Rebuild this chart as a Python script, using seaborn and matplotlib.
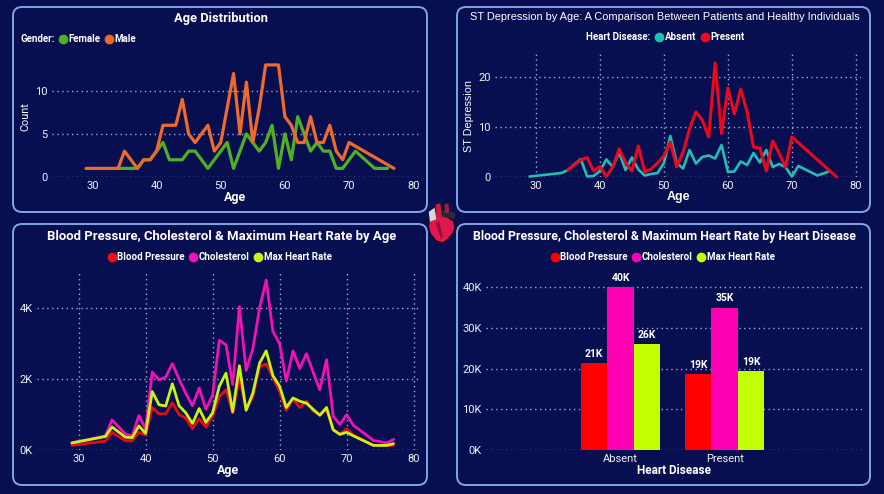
import numpy as np
import pandas as pd
import matplotlib
matplotlib.use("Agg")
import matplotlib.pyplot as plt
from matplotlib.lines import Line2D
from matplotlib.patches import FancyBboxPatch, PathPatch, Polygon
from matplotlib.path import Path
import seaborn as sns

# values
ages_female = [34, 37, 38, 39, 40, 41, 42, 43, 44, 45, 46, 47, 48, 49, 50, 51, 52, 53, 54, 55, 56, 57, 58,
               59, 60, 61, 62, 63, 64, 65, 66, 67, 68, 69, 71, 74, 76]
count_female = [1, 1, 2, 2, 3, 4, 2, 2, 2, 3, 3, 2, 1, 2, 3, 4, 1, 3, 5, 4, 3, 4, 6,
                1, 5, 2, 7, 5, 3, 4, 3, 3, 1, 1, 3, 1, 1]
ages_male = [29, 34, 35, 37, 38, 39, 40, 41, 42, 43, 44, 45, 46, 47, 48, 49, 50, 51, 52, 53, 54, 55, 56, 57,
             58, 59, 60, 61, 62, 63, 64, 65, 66, 67, 68, 69, 70, 77]
count_male = [1, 1, 3, 1, 2, 2, 3, 6, 6, 6, 9, 5, 4, 5, 6, 3, 4, 8, 12, 5, 11, 4, 8, 13,
              13, 13, 7, 6, 4, 4, 7, 4, 4, 6, 3, 2, 4, 1]

ages_absent = [29, 34, 35, 37, 38, 39, 40, 41, 42, 43, 44, 45, 46, 47, 48, 49, 50, 51, 52, 53, 54, 55, 56, 57,
               58, 59, 60, 61, 62, 63, 64, 65, 66, 67, 68, 69, 70, 71, 74, 76]
st_absent = [0.1, 0.8, 1.4, 3.6, 0.1, 0.2, 1.2, 3.5, 2.0, 4.9, 1.4, 3.9, 1.5, 0.3, 0.6, 0.8, 2.8, 8.2, 2.8, 1.7,
             5.4, 2.7, 4.0, 4.3, 3.7, 6.4, 1.0, 1.1, 3.1, 2.4, 4.8, 2.9, 5.4, 2.0, 2.6, 2.0, 0.1, 2.2, 0.3, 1.2]
ages_present = [35, 37, 38, 39, 40, 41, 42, 43, 44, 45, 46, 47, 48, 49, 50, 51, 52, 53, 54, 55, 56, 57, 58,
                59, 60, 61, 62, 63, 64, 65, 66, 67, 68, 69, 70, 77]
st_present = [1.4, 3.4, 3.9, 1.2, 2.1, 0.1, 2.0, 5.6, 2.9, 1.2, 6.2, 1.0, 1.6, 2.8, 4.2, 7.0, 2.0, 5.0, 9.6, 13.0,
              11.4, 8.0, 22.8, 8.7, 17.8, 12.6, 17.6, 13.0, 6.0, 5.8, 1.2, 7.2, 4.8, 2.0, 8.0, 0.0]

ages_all = [29, 34, 35, 37, 38, 39, 40, 41, 42, 43, 44, 45, 46, 47, 48, 49, 50, 51, 52, 53, 54, 55, 56, 57,
            58, 59, 60, 61, 62, 63, 64, 65, 66, 67, 68, 69, 70, 71, 74, 76, 77]
blood_pressure = [130, 250, 500, 260, 260, 500, 420, 1200, 1020, 1020, 1330, 1000, 900, 600, 880, 650, 950, 1500,
                  1700, 1050, 2050, 1150, 1500, 2350, 2430, 2050, 1650, 1120, 1450, 1200, 1380, 1100, 1000, 1150,
                  570, 450, 600, 420, 130, 130, 130]
cholesterol = [200, 400, 850, 450, 400, 970, 600, 2200, 1980, 2060, 2440, 2000, 1600, 1250, 1750, 1150, 1550, 3100,
               2970, 1850, 4050, 2250, 2850, 4000, 4800, 3350, 3000, 1950, 2800, 2300, 2720, 2200, 1700, 2550,
               950, 720, 1000, 700, 270, 200, 300]
max_heart_rate = [200, 380, 650, 360, 350, 680, 470, 1650, 1280, 1240, 1870, 1250, 1050, 750, 1170, 780, 1050, 1800,
                  2170, 1080, 2380, 1120, 1600, 2450, 2800, 2100, 1800, 1200, 1470, 1380, 1320, 1150, 980, 1200,
                  570, 440, 500, 400, 130, 130, 180]

disease_groups = ["Absent", "Present"]
measures = ["Blood Pressure", "Cholesterol", "Max Heart Rate"]
bp_totals = [21300, 18700]
chol_totals = [40000, 35000]
mhr_totals = [26000, 19400]

BG = "#070f50"
BORDER = "#7fa6e6"
GRID = "#a4aacb"
W, H = 884, 494

sns.set_theme(style="dark")
plt.rcParams["font.family"] = ["Roboto", "DejaVu Sans"]

fig = plt.figure(figsize=(W / 100, H / 100), dpi=100, facecolor=BG)


def add_axes(x0, y0, x1, y1):
    # pixel box, y measured from the top like the screenshot
    ax = fig.add_axes([x0 / W, 1 - y1 / H, (x1 - x0) / W, (y1 - y0) / H], facecolor="none")
    return ax


def add_panel(x0, y0, x1, y1):
    box = FancyBboxPatch((x0, H - y1), x1 - x0, y1 - y0, boxstyle="round,pad=0,rounding_size=9",
                         transform=None, fc="none", ec=BORDER, lw=1.4, zorder=0)
    # transform=None means pixels, dpi is 100 so this stays at 884x494
    fig.add_artist(box)


def style_axes(ax, vertical=True):
    ax.grid(False)
    ax.grid(axis="y", color=GRID, lw=1, ls=(0, (1, 2.5)))
    if vertical:
        ax.grid(axis="x", color=GRID, lw=1, ls=(0, (1, 2.5)))
    ax.set_axisbelow(True)
    for s in ax.spines.values():
        s.set_visible(False)
    ax.tick_params(colors="#f0f2fa", labelsize=8, length=0, pad=3)


def age_axis(ax, xlim, ylim, yticks, ylabels=None, ylabel=""):
    ax.set_xlim(*xlim)
    ax.set_ylim(*ylim)
    ax.set_xticks(range(30, 81, 10))
    ax.set_yticks(yticks)
    if ylabels:
        ax.set_yticklabels(ylabels)
    ax.set_xlabel("Age", color="white", fontsize=9, fontweight="bold", labelpad=0)
    ax.set_ylabel(ylabel, color="white", fontsize=7.8)


def long_frame(series):
    rows = []
    for name, xs, ys in series:
        rows.append(pd.DataFrame({"age": xs, "value": ys, "series": name}))
    return pd.concat(rows, ignore_index=True)


def make_legend(ax_fig_x, y, names, colors, title=None):
    handles = [Line2D([], [], ls="", marker="o", ms=6, color=c) for c in colors]
    if title:
        handles = [Line2D([], [], ls="", marker="")] + handles
        names = [title] + names
    leg = fig.legend(handles, names, loc="center", bbox_to_anchor=(ax_fig_x / W, 1 - y / H),
                     ncol=len(names), frameon=False, columnspacing=0.35,
                     handletextpad=0.0, handlelength=1.1, borderpad=0, labelcolor="white",
                     prop={"weight": "bold", "size": 7})
    return leg


# top left
add_panel(13, 7, 427, 212)
ax1 = add_axes(52, 52, 419, 177)
df1 = long_frame([("Female", ages_female, count_female), ("Male", ages_male, count_male)])
sns.lineplot(data=df1, x="age", y="value", hue="series", palette=["#4fb021", "#ee6a2c"],
             linewidth=2.3, errorbar=None, legend=False, ax=ax1, clip_on=False)
style_axes(ax1, vertical=False)
age_axis(ax1, (23.7, 80.9), (0, 14.5), [0, 5, 10], ylabel="Count")
ax1.yaxis.set_label_coords(-0.06, 0.48)
fig.text(221 / W, 1 - 18.5 / H, "Age Distribution", color="white", fontsize=9.3, fontweight="bold",
         ha="center", va="center")
make_legend(73, 39.5, ["Female", "Male"], ["#4fb021", "#ee6a2c"], title="Gender:")

# top right
add_panel(457, 7, 870, 212)
ax2 = add_axes(495, 52, 861, 177)
df2 = long_frame([("Absent", ages_absent, st_absent), ("Present", ages_present, st_present)])
sns.lineplot(data=df2[df2["series"] == "Absent"], x="age", y="value", color="#24bdb5",
             linewidth=1.9, errorbar=None, ax=ax2, clip_on=False)
sns.lineplot(data=df2[df2["series"] == "Present"], x="age", y="value", color="#e8091c",
             linewidth=2.2, errorbar=None, ax=ax2, clip_on=False)
style_axes(ax2)
age_axis(ax2, (23.6, 80.8), (0, 25), [0, 10, 20], ylabel="ST Depression")
ax2.yaxis.label.set_fontfamily(["Liberation Sans"])
ax2.yaxis.set_label_coords(-0.057, 0.49)
ax2.xaxis.label.set_fontfamily(["Liberation Sans"])
fig.text(665 / W, 1 - 17 / H, "ST Depression by Age: A Comparison Between Patients and Healthy Individuals",
         color="white", fontsize=7.95, family="Liberation Sans", ha="center", va="center")
make_legend(660, 37, ["Absent", "Present"], ["#24bdb5", "#ee0a1c"], title="Heart Disease:")

# bottom left
add_panel(13, 224, 427, 485)
ax3 = add_axes(37, 273, 419, 450)
df3 = long_frame([("Blood Pressure", ages_all, blood_pressure), ("Cholesterol", ages_all, cholesterol),
                  ("Max Heart Rate", ages_all, max_heart_rate)])
line_cols = ["#e30b17", "#f012b4", "#c8f313"]
sns.lineplot(data=df3, x="age", y="value", hue="series", palette=line_cols, linewidth=2.0,
             errorbar=None, legend=False, ax=ax3, clip_on=False)
style_axes(ax3)
age_axis(ax3, (23.8, 80.8), (0, 5000), [0, 2000, 4000], ["0K", "2K", "4K"])
fig.text(221.5 / W, 1 - 236 / H, "Blood Pressure, Cholesterol & Maximum Heart Rate by Age", color="white",
         fontsize=9.45, fontweight="bold", ha="center", va="center")
make_legend(219, 257, measures, ["#fa0a14", "#f012b4", "#c8f313"])

# bottom right
add_panel(457, 224, 870, 485)
ax4 = add_axes(486, 270, 862, 450)
df4 = pd.DataFrame({"group": disease_groups * 3,
                    "measure": np.repeat(measures, 2),
                    "total": bp_totals + chol_totals + mhr_totals})
bar_cols = ["#ff0000", "#ff00b4", "#c3ff00"]
sns.barplot(data=df4, x="group", y="total", hue="measure", palette=bar_cols, width=0.76, gap=0,
            saturation=1, errorbar=None, legend=False, linewidth=0, ax=ax4)
style_axes(ax4, vertical=False)
ax4.set_xlim(-1.293, 2.32)
ax4.set_ylim(0, 44250)
ax4.set_yticks([0, 10000, 20000, 30000, 40000])
ax4.set_yticklabels(["0K", "10K", "20K", "30K", "40K"])
ax4.set_xlabel("Heart Disease", color="white", fontsize=8.5, fontweight="bold", labelpad=0)
ax4.set_ylabel("")
for c in ax4.containers:
    ax4.bar_label(c, labels=[f"{v / 1000:.0f}K" for v in c.datavalues], padding=3, color="white",
                  fontsize=7.5, fontweight="bold")
fig.text(664.5 / W, 1 - 236 / H, "Blood Pressure, Cholesterol & Maximum Heart Rate by Heart Disease", color="white",
         fontsize=8.9, fontweight="bold", ha="center", va="center")
make_legend(662, 257, measures, bar_cols)

# small heart icon between the panels, unit square mapped onto its pixel box
hx0, hy0, hw, hh = 427, 202, 29, 41


def icon_pts(pts):
    return [(hx0 + px * hw, H - (hy0 + py * hh)) for px, py in pts]


heart_verts = icon_pts([(0.08, 0.44), (0.30, 0.32), (0.62, 0.34), (0.92, 0.46), (0.96, 0.62), (0.88, 0.78),
                        (0.70, 0.92), (0.55, 1.0), (0.32, 0.95), (0.12, 0.78), (0.05, 0.60), (0.08, 0.44)])
codes = [Path.MOVETO] + [Path.LINETO] * 10 + [Path.CLOSEPOLY]
fig.add_artist(PathPatch(Path(heart_verts, codes), transform=None, fc="#e0184f", ec="#14060e", lw=0.8))
for pts, col in [([(0.30, 0.06), (0.46, 0.03), (0.52, 0.34), (0.30, 0.38)], "#c81e3c"),
                 ([(0.06, 0.24), (0.26, 0.14), (0.32, 0.42), (0.10, 0.48)], "#d8d8dc"),
                 ([(0.50, 0.20), (0.98, 0.26), (0.95, 0.42), (0.55, 0.36)], "#262c38"),
                 ([(0.60, 0.06), (0.74, 0.03), (0.76, 0.26), (0.62, 0.26)], "#b01a34"),
                 ([(0.30, 0.50), (0.42, 0.48), (0.55, 0.85), (0.48, 0.90)], "#8e1038")]:
    fig.add_artist(Polygon(icon_pts(pts), closed=True, transform=None, fc=col, ec="none"))

fig.savefig("out.png", dpi=100, facecolor=BG)
